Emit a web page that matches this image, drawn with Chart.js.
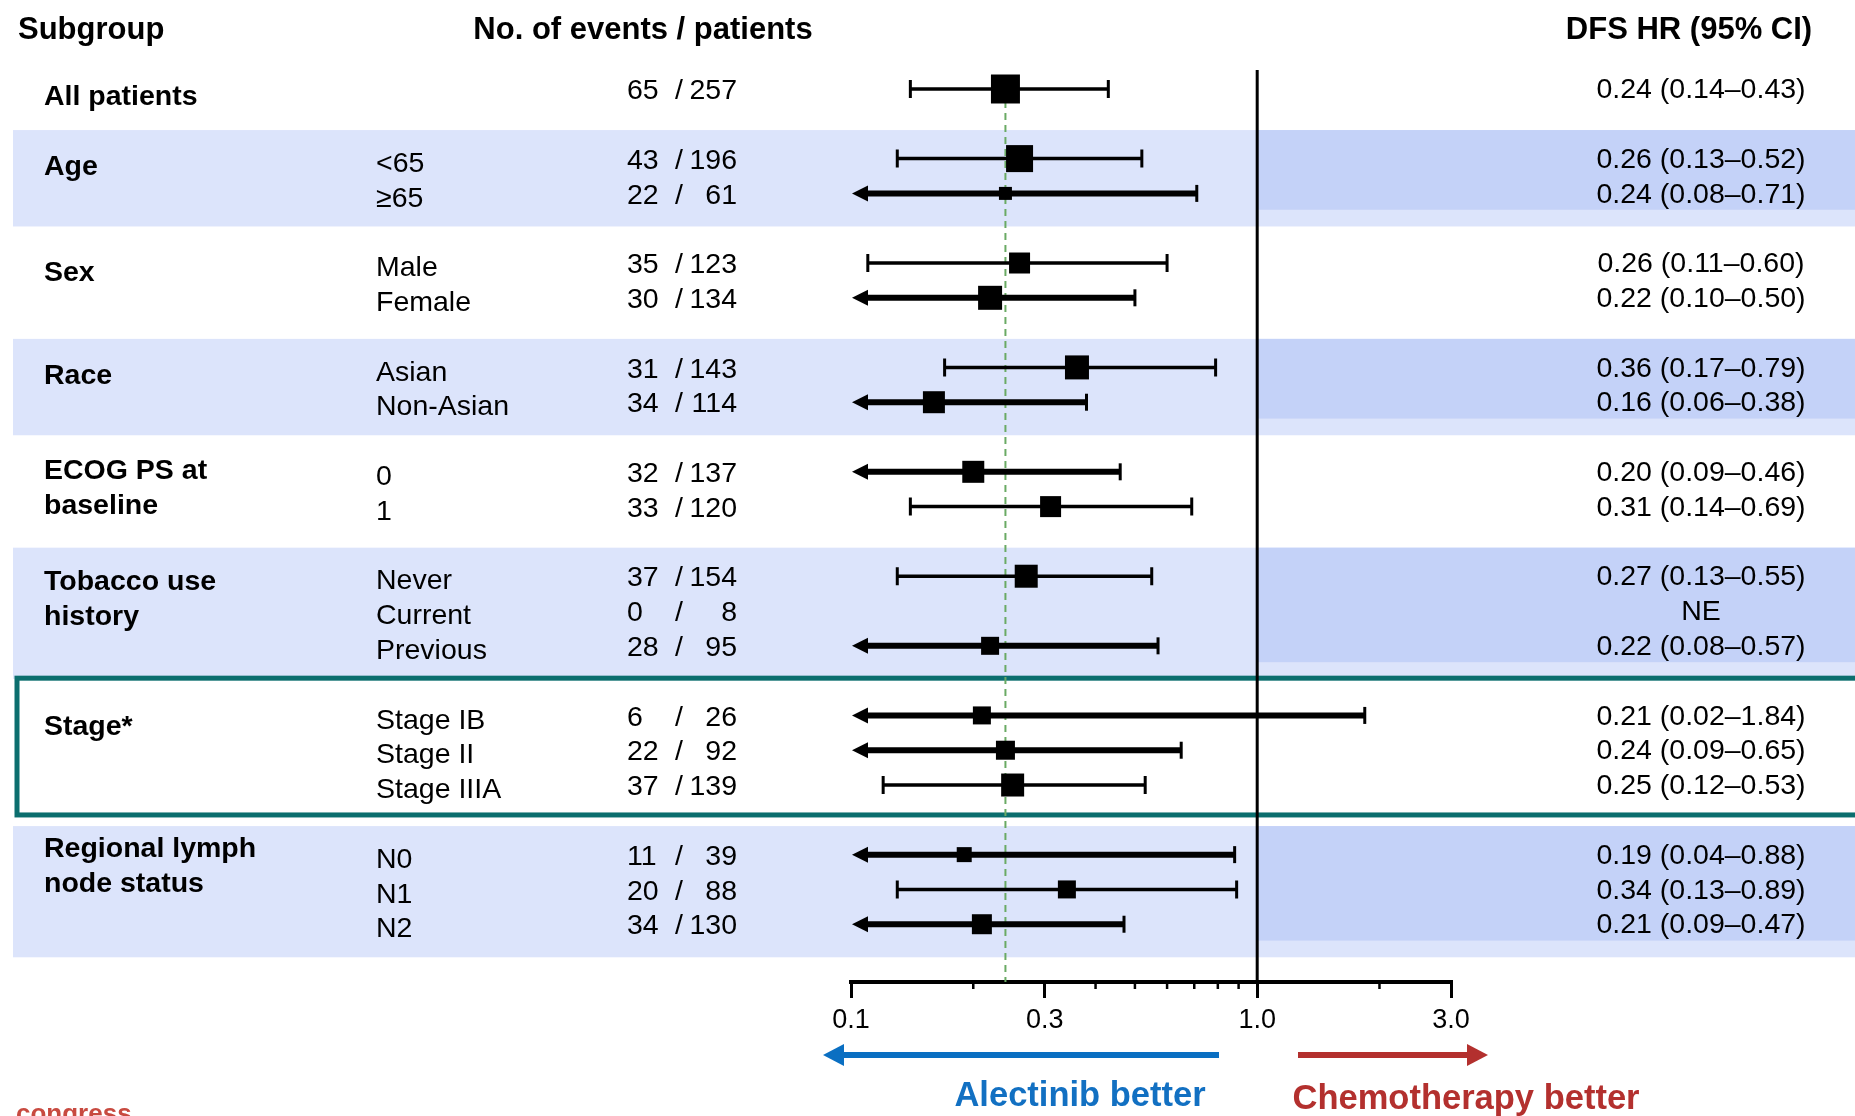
<!DOCTYPE html>
<html>
<head>
<meta charset="utf-8">
<title>DFS by subgroup</title>
<script src="https://cdn.jsdelivr.net/npm/chart.js@4.4.1/dist/chart.umd.min.js"></script>
<style>
  body { margin: 0; background: #fff; }
  #wrap { position: relative; width: 1855px; height: 1116px; }
</style>
</head>
<body>
<div id="wrap"><canvas id="forest"></canvas></div>
<script>
// group headers
const groupNames = ['All patients', 'Age', 'Sex', 'Race', 'ECOG PS at\nbaseline', 'Tobacco use\nhistory', 'Stage*', 'Regional lymph\nnode status'];
// one entry per row
const rowGroup = [0, 1, 1, 2, 2, 3, 3, 4, 4, 5, 5, 5, 6, 6, 6, 7, 7, 7];
const rowLabels = ['', '<65', '≥65', 'Male', 'Female', 'Asian', 'Non-Asian', '0', '1', 'Never', 'Current', 'Previous', 'Stage IB', 'Stage II', 'Stage IIIA', 'N0', 'N1', 'N2'];
const events = [65, 43, 22, 35, 30, 31, 34, 32, 33, 37, 0, 28, 6, 22, 37, 11, 20, 34];
const patients = [257, 196, 61, 123, 134, 143, 114, 137, 120, 154, 8, 95, 26, 92, 139, 39, 88, 130];
const hr = [0.24, 0.26, 0.24, 0.26, 0.22, 0.36, 0.16, 0.20, 0.31, 0.27, null, 0.22, 0.21, 0.24, 0.25, 0.19, 0.34, 0.21];
const ciLow = [0.14, 0.13, 0.08, 0.11, 0.10, 0.17, 0.06, 0.09, 0.14, 0.13, null, 0.08, 0.02, 0.09, 0.12, 0.04, 0.13, 0.09];
const ciHigh = [0.43, 0.52, 0.71, 0.60, 0.50, 0.79, 0.38, 0.46, 0.69, 0.55, null, 0.57, 1.84, 0.65, 0.53, 0.88, 0.89, 0.47];
const xTickValues = [0.1, 0.3, 1.0, 3.0];
const xMinorValues = [0.2, 0.4, 0.5, 0.6, 0.7, 0.8, 0.9, 2.0];

// styling
const FONT = "'Liberation Sans', Arial, sans-serif";
const boxSide = [29, 27, 13, 21, 24, 24, 22, 22, 21, 23, 0, 18, 18, 19, 23, 15, 18, 20];
const labelShift = [0.2, 0.21, 0.26, 0.22, -0.05, 0.14, 0.3, -0.2];
const shadedGroups = [1, 3, 5, 7];
const boxedGroup = 6;
const Y_MIN = -0.546, Y_MAX = 25.66;

// each group is separated from the next by one empty row
const rowPos = rowGroup.map((g, i) => i + g);
const rowsOf = g => rowPos.filter((p, i) => rowGroup[i] === g);

const pts = [], radii = [];
hr.forEach((v, i) => {
    if (v == null) return;
    pts.push({ x: v, y: rowPos[i] });
    radii.push(boxSide[i] / Math.SQRT2);
});

function text(ctx, str, x, yc, size, weight, align, color) {
    ctx.font = `${weight} ${size}px ${FONT}`;
    ctx.textAlign = align;
    ctx.textBaseline = 'alphabetic';
    ctx.fillStyle = color || '#000';
    ctx.fillText(str, x, yc + size * 0.36);
}

const backdrop = {
    id: 'backdrop',
    beforeDraw(chart) {
        const { ctx, scales: { x, y } } = chart;
        const W = chart.width;
        const x1 = x.getPixelForValue(1);
        ctx.save();
        shadedGroups.forEach(g => {
            const r = rowsOf(g);
            const top = y.getPixelForValue(r[0] - 0.82);
            const bot = y.getPixelForValue(r[r.length - 1] + 0.95);
            const darkBot = y.getPixelForValue(r[r.length - 1] + 0.47);
            ctx.fillStyle = '#dce4fb';
            ctx.fillRect(13, top, W - 13, bot - top);
            ctx.fillStyle = '#c4d2f8';
            ctx.fillRect(x1, top, W - x1, darkBot - top);
        });
        const r = rowsOf(boxedGroup);
        const top = y.getPixelForValue(r[0] - 1.07);
        const bot = y.getPixelForValue(r[r.length - 1] + 0.86);
        ctx.strokeStyle = '#0b6e6e';
        ctx.lineWidth = 5;
        ctx.strokeRect(17, top, W + 20, bot - top);
        ctx.restore();
    }
};

const whiskers = {
    id: 'whiskers',
    beforeDatasetDraw(chart, args) {
        if (args.index !== 0) return;
        const { ctx, scales: { x, y } } = chart;
        ctx.save();
        ctx.strokeStyle = '#000';
        ctx.fillStyle = '#000';
        hr.forEach((v, i) => {
            if (v == null) return;
            const py = y.getPixelForValue(rowPos[i]);
            const clipped = ciLow[i] <= x.min;
            const xl = x.getPixelForValue(Math.max(ciLow[i], x.min)) + (clipped ? 1 : 0);
            const xr = x.getPixelForValue(ciHigh[i]);
            ctx.lineWidth = clipped ? 6 : 3.5;
            ctx.beginPath();
            ctx.moveTo(clipped ? xl + 10 : xl, py);
            ctx.lineTo(xr, py);
            ctx.stroke();
            const cap = clipped ? 8.5 : 9;
            ctx.lineWidth = 3;
            ctx.beginPath();
            ctx.moveTo(xr, py - cap);
            ctx.lineTo(xr, py + cap);
            if (!clipped) {
                ctx.moveTo(xl, py - cap);
                ctx.lineTo(xl, py + cap);
            }
            ctx.stroke();
            if (clipped) {
                ctx.beginPath();
                ctx.moveTo(xl, py);
                ctx.lineTo(xl + 16, py - 8);
                ctx.lineTo(xl + 16, py + 8);
                ctx.closePath();
                ctx.fill();
            }
        });
        ctx.restore();
    }
};

const annotations = {
    id: 'annotations',
    afterDraw(chart) {
        const { ctx, chartArea, scales: { x, y } } = chart;
        ctx.save();

        // minor ticks on the HR axis
        ctx.strokeStyle = '#000';
        ctx.lineWidth = 2.5;
        xMinorValues.forEach(v => {
            const px = x.getPixelForValue(v);
            ctx.beginPath();
            ctx.moveTo(px, chartArea.bottom);
            ctx.lineTo(px, chartArea.bottom + 7);
            ctx.stroke();
        });

        // column headers
        text(ctx, 'Subgroup', 18, 28, 31, 'bold', 'left');
        text(ctx, 'No. of events / patients', 643, 28, 31, 'bold', 'center');
        text(ctx, 'DFS HR (95% CI)', 1689, 28, 31, 'bold', 'center');

        // group names
        groupNames.forEach((name, g) => {
            const first = rowsOf(g)[0] + labelShift[g];
            name.split('\n').forEach((line, k) => {
                text(ctx, line, 44, y.getPixelForValue(first + k) - 1, 28.5, 'bold', 'left');
            });
        });

        // rows
        rowLabels.forEach((lab, i) => {
            const py = y.getPixelForValue(rowPos[i]);
            if (lab) text(ctx, lab, 376, py + 3, 28.5, 'normal', 'left');
            text(ctx, String(events[i]), 627, py, 28.5, 'normal', 'left');
            text(ctx, '/', 679, py, 28.5, 'normal', 'center');
            text(ctx, String(patients[i]), 737, py, 28.5, 'normal', 'right');
            const hrText = hr[i] == null ? 'NE'
                : `${hr[i].toFixed(2)} (${ciLow[i].toFixed(2)}\u2013${ciHigh[i].toFixed(2)})`;
            text(ctx, hrText, 1701, py - 1, 28.5, 'normal', 'center');
        });

        // direction arrows
        const ay = 1055;
        ctx.lineWidth = 6;
        ctx.strokeStyle = '#0a6fc2';
        ctx.fillStyle = '#0a6fc2';
        ctx.beginPath(); ctx.moveTo(1219, ay); ctx.lineTo(840, ay); ctx.stroke();
        ctx.beginPath(); ctx.moveTo(823, ay); ctx.lineTo(844, ay - 11); ctx.lineTo(844, ay + 11); ctx.closePath(); ctx.fill();
        ctx.strokeStyle = '#b3302e';
        ctx.fillStyle = '#b3302e';
        ctx.beginPath(); ctx.moveTo(1298, ay); ctx.lineTo(1470, ay); ctx.stroke();
        ctx.beginPath(); ctx.moveTo(1488, ay); ctx.lineTo(1467, ay - 11); ctx.lineTo(1467, ay + 11); ctx.closePath(); ctx.fill();

        text(ctx, 'Alectinib better', 1080, 1094, 34.5, 'bold', 'center', '#1270c2');
        text(ctx, 'Chemotherapy better', 1466, 1097, 34.5, 'bold', 'center', '#b3302e');
        text(ctx, 'congress', 16, 1113, 26, 'bold', 'left', '#c84a40');

        ctx.restore();
    }
};

new Chart(document.getElementById('forest'), {
    type: 'scatter',
    data: {
        datasets: [
            {
                data: pts,
                pointStyle: 'rect',
                pointRadius: radii,
                backgroundColor: '#000',
                borderWidth: 0,
                order: 0
            },
            {
                type: 'line',
                data: [{ x: hr[0], y: rowPos[0] }, { x: hr[0], y: Y_MAX }],
                borderColor: '#6aaa64',
                borderWidth: 2,
                borderDash: [7, 5],
                pointRadius: 0,
                order: 1
            },
            {
                type: 'line',
                data: [{ x: 1, y: Y_MIN }, { x: 1, y: Y_MAX }],
                borderColor: '#000',
                borderWidth: 3,
                pointRadius: 0,
                order: 2
            }
        ]
    },
    options: {
        responsive: true,
        maintainAspectRatio: false,
        animation: false,
        events: [],
        layout: { padding: { left: 851, right: 404, top: 70, bottom: 0 } },
        plugins: { legend: { display: false }, tooltip: { enabled: false } },
        scales: {
            x: {
                type: 'logarithmic',
                min: 0.1,
                max: 3,
                afterBuildTicks: s => { s.ticks = xTickValues.map(v => ({ value: v })); },
                afterFit: s => { s.height = 134; },
                border: { display: true, color: '#000', width: 4 },
                grid: { drawOnChartArea: false, drawTicks: true, tickLength: 16, color: '#000', lineWidth: 3 },
                ticks: {
                    autoSkip: false,
                    maxRotation: 0,
                    padding: 6,
                    color: '#000',
                    font: { family: FONT, size: 27 },
                    callback: v => Number(v).toFixed(1)
                }
            },
            y: {
                type: 'linear',
                reverse: true,
                min: Y_MIN,
                max: Y_MAX,
                display: false
            }
        }
    },
    plugins: [backdrop, whiskers, annotations]
});
</script>
</body>
</html>
